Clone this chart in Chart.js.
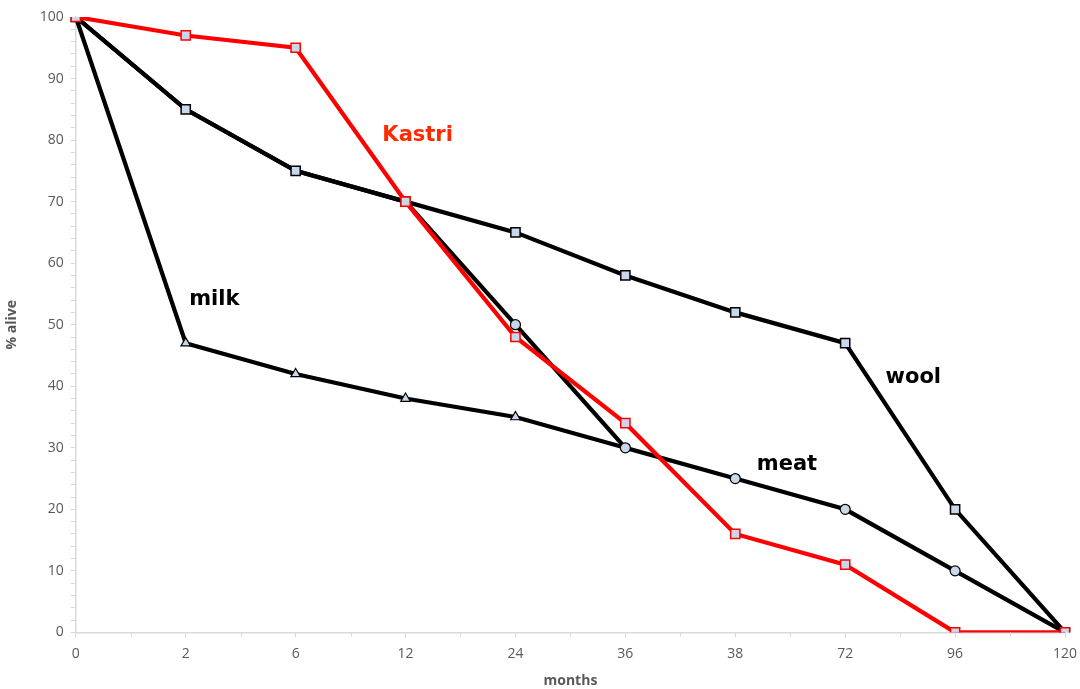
<!DOCTYPE html>
<html>
<head>
<meta charset="utf-8">
<script src="https://cdn.jsdelivr.net/npm/chart.js@4.4.0/dist/chart.umd.min.js"></script>
<style>
  html, body { margin: 0; padding: 0; background: #fff; }
  #wrap { width: 1080px; height: 689px; position: relative; }
</style>
</head>
<body>
<div id="wrap"><canvas id="c" width="1080" height="689"></canvas></div>
<script>
const months = ['0', '2', '6', '12', '24', '36', '38', '72', '96', '120'];
const kastri = [100, 97, 95, 70, 48, 34, 16, 11, 0, 0];
const wool   = [100, 85, 75, 70, 65, 58, 52, 47, 20, 0];
const meat   = [100, 85, 75, 70, 50, 30, 25, 20, 10, 0];
const milk   = [100, 47, 42, 38, 35, 30, null, null, null, null];
const yTicks = [0, 10, 20, 30, 40, 50, 60, 70, 80, 90, 100];

const seriesLabels = [
  { text: 'Kastri', x: 3.11, y: 80.8, color: '#ff2a00' },
  { text: 'wool',   x: 7.62, y: 41.4, color: '#000000' },
  { text: 'meat',   x: 6.47, y: 27.3, color: '#000000' },
  { text: 'milk',   x: 1.26, y: 54.1, color: '#000000' }
];

const markerFill = '#c9d7ea';
const axisGrey = '#d9d9d9';
const tickFont = { family: 'Open Sans', size: 14 };

const labelPlugin = {
  id: 'labels',
  afterDatasetsDraw(chart) {
    const ctx = chart.ctx;
    const xs = chart.scales.x, ys = chart.scales.y;
    ctx.save();
    ctx.font = 'bold 21px "DejaVu Sans"';
    ctx.textAlign = 'center';
    ctx.textBaseline = 'middle';
    seriesLabels.forEach(l => {
      const p0 = xs.getPixelForValue(Math.floor(l.x));
      const p1 = xs.getPixelForValue(Math.min(Math.floor(l.x) + 1, months.length - 1));
      const px = p0 + (p1 - p0) * (l.x - Math.floor(l.x));
      ctx.fillStyle = l.color;
      ctx.fillText(l.text, px, ys.getPixelForValue(l.y));
    });
    ctx.restore();
  },
  afterDraw(chart) {
    const ctx = chart.ctx;
    const xs = chart.scales.x;
    const yb = chart.chartArea.bottom;
    ctx.save();
    ctx.strokeStyle = axisGrey;
    ctx.lineWidth = 1;
    for (let i = 0; i < months.length - 1; i++) {
      const px = Math.round((xs.getPixelForValue(i) + xs.getPixelForValue(i + 1)) / 2) + 0.5;
      ctx.beginPath();
      ctx.moveTo(px, yb);
      ctx.lineTo(px, yb + 4);
      ctx.stroke();
    }
    ctx.restore();
  }
};

new Chart(document.getElementById('c'), {
  type: 'line',
  data: {
    labels: months,
    datasets: [
      { label: 'Kastri', data: kastri, borderColor: '#ff0000', borderWidth: 4.2,
        pointStyle: 'rect', pointRadius: 6.5, pointBackgroundColor: markerFill,
        pointBorderColor: '#ff0000', pointBorderWidth: 1.5, tension: 0 },
      { label: 'wool', data: wool, borderColor: '#000000', borderWidth: 4.2,
        pointStyle: 'rect', pointRadius: 6.5, pointBackgroundColor: markerFill,
        pointBorderColor: '#000000', pointBorderWidth: 1.5, tension: 0 },
      { label: 'meat', data: meat, borderColor: '#000000', borderWidth: 4.2,
        pointStyle: 'circle', pointRadius: [0, 0, 0, 0, 5, 5, 5, 5, 5, 0],
        pointBackgroundColor: markerFill, pointBorderColor: '#000000', pointBorderWidth: 1.2, tension: 0 },
      { label: 'milk', data: milk, borderColor: '#000000', borderWidth: 4.2,
        pointStyle: 'triangle', pointRadius: [0, 5.5, 5.5, 5.5, 5.5, 0, 0, 0, 0, 0],
        pointBackgroundColor: markerFill, pointBorderColor: '#000000', pointBorderWidth: 1.2, tension: 0 }
    ]
  },
  options: {
    responsive: false,
    animation: false,
    events: [],
    layout: { padding: { left: 4, right: 0, top: 17, bottom: 0 } },
    plugins: { legend: { display: false }, tooltip: { enabled: false } },
    scales: {
      x: {
        type: 'category',
        offset: false,
        afterFit(scale) { scale.paddingRight = 15; },
        border: { color: axisGrey, width: 1.5 },
        grid: { drawOnChartArea: false, color: axisGrey, tickLength: 5 },
        ticks: { color: '#595959', font: tickFont, padding: 8, maxRotation: 0, autoSkip: false },
        title: { display: true, text: 'months', color: '#595959',
                 font: { family: 'Open Sans', size: 14, weight: 'bold' }, padding: { top: 2, bottom: 0 } }
      },
      y: {
        min: 0, max: 100,
        border: { color: axisGrey, width: 1.5 },
        grid: { drawOnChartArea: false, color: axisGrey, tickLength: 5 },
        afterBuildTicks(scale) {
          const t = [];
          for (let v = 0; v <= 100; v += 2) t.push({ value: v });
          scale.ticks = t;
        },
        ticks: {
          color: '#595959', font: tickFont, padding: 7, autoSkip: false,
          callback: v => (yTicks.includes(v) ? String(v) : '')
        },
        title: { display: true, text: '% alive', color: '#595959',
                 font: { family: 'Open Sans', size: 14, weight: 'bold' }, padding: { top: 0, bottom: 12 } }
      }
    }
  },
  plugins: [labelPlugin]
});
</script>
</body>
</html>
